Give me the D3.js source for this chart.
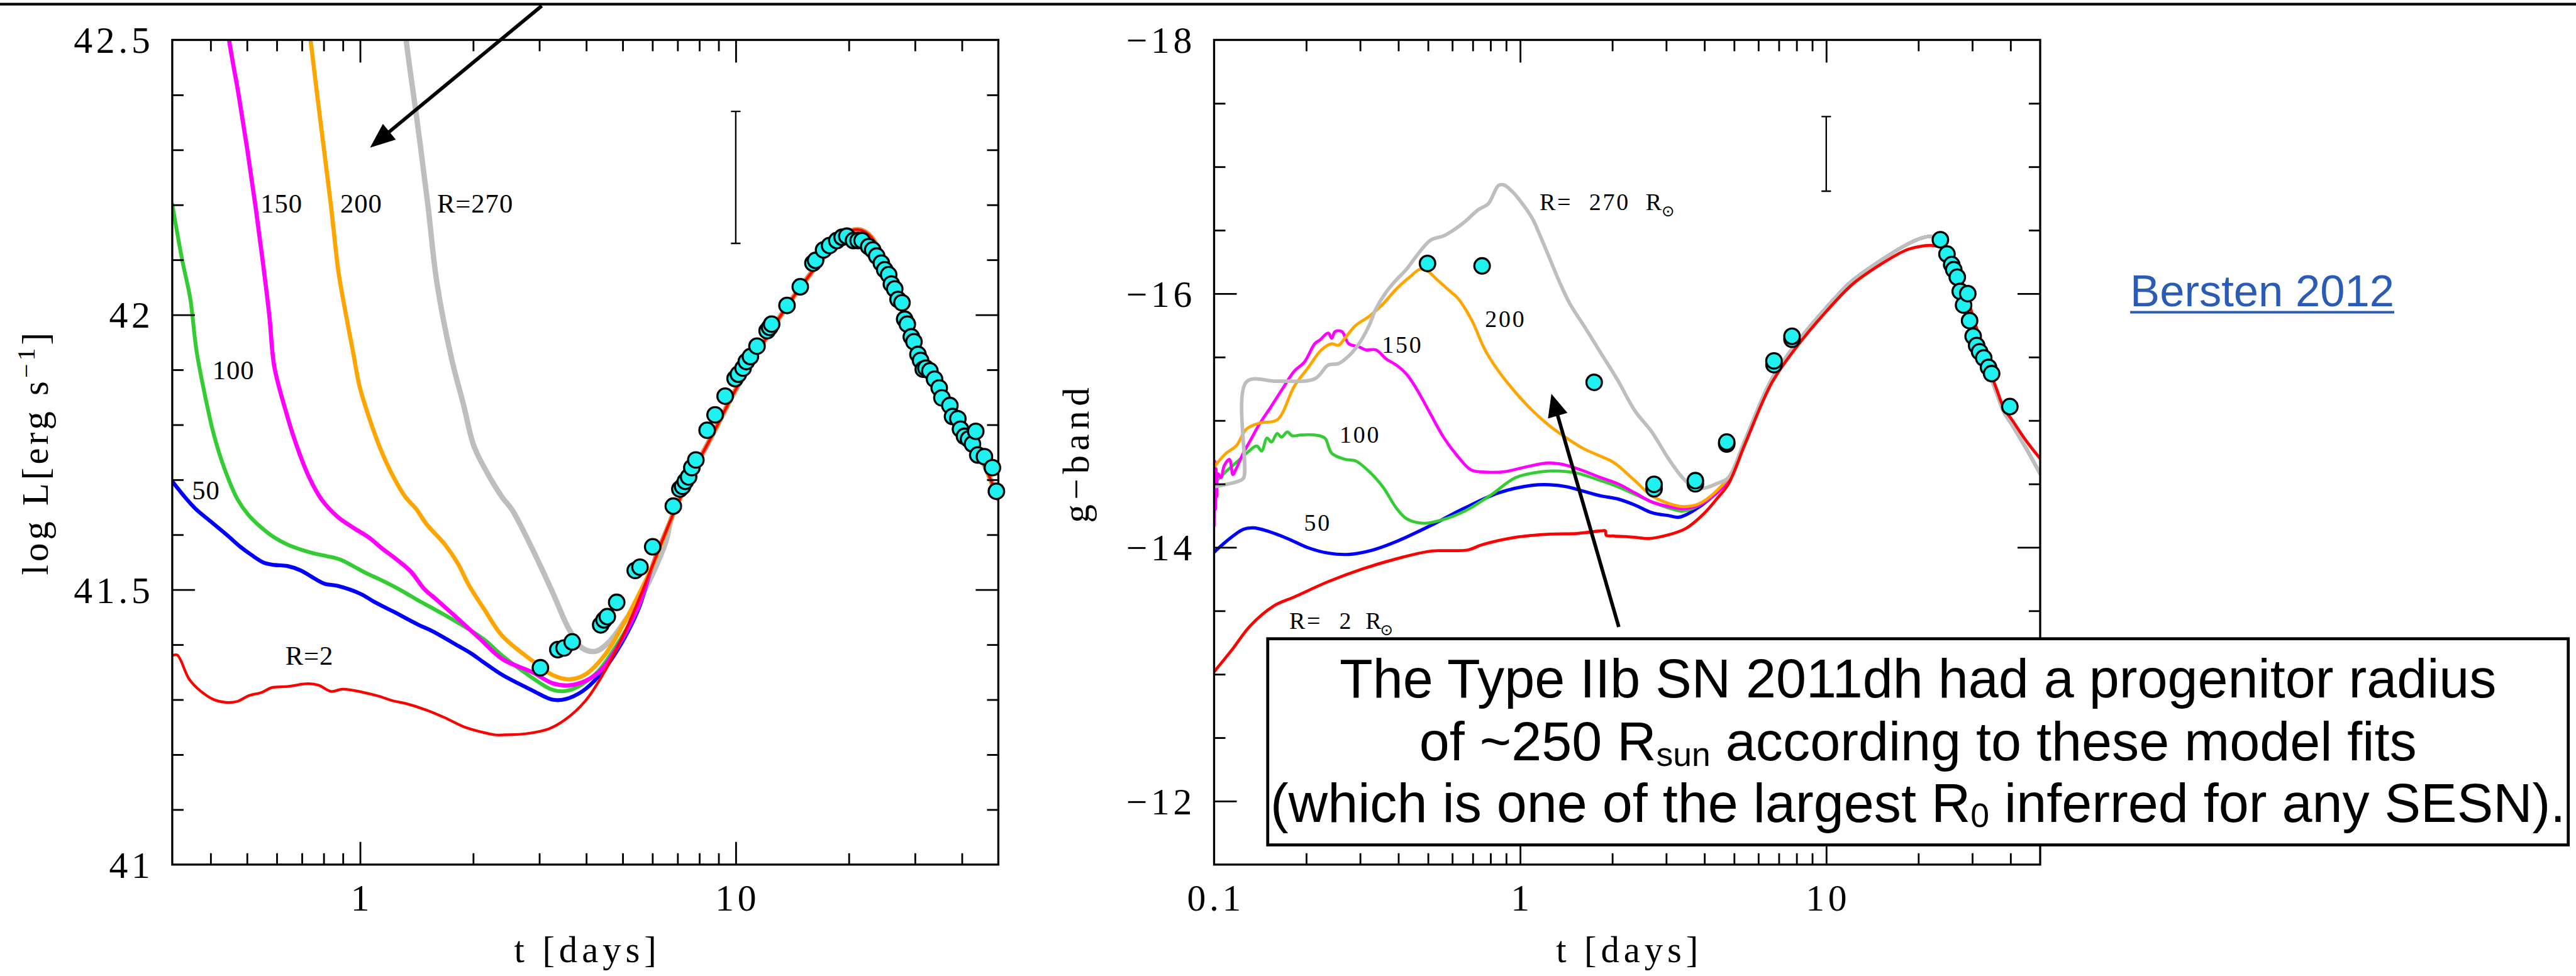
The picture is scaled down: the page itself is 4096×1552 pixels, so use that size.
<!DOCTYPE html>
<html><head><meta charset="utf-8"><title>SN 2011dh progenitor radius models (Bersten 2012)</title>
<script src="https://cdn.jsdelivr.net/npm/d3@7/dist/d3.min.js"></script>
<style>html,body{margin:0;padding:0;background:#fff;overflow:hidden}svg{display:block}</style>
</head><body>
<svg id="chart" width="4096" height="1552" viewBox="0 0 4322 1638" preserveAspectRatio="none"></svg>
<script>
// ======================= DATA =======================
// ---- Left panel: bolometric luminosity, log L [erg/s] vs t [days]
const leftXMajor = [1, 10];
const leftXMinor = [0.4,0.5,0.6,0.7,0.8,0.9,2,3,4,5,6,7,8,9,20,30,40];
const leftXTickValues = [1, 10];
const leftXTickLabels = ["1", "10"];
const leftYMajor = [41.5, 42];
const leftYMinor = [41.1,41.2,41.3,41.4,41.6,41.7,41.8,41.9,42.1,42.2,42.3,42.4];
const leftYTickValues = [41, 41.5, 42, 42.5];
const leftYTickLabels = ["41", "41.5", "42", "42.5"];

const lumR2 = [[0.3162,41.380],[0.326,41.381],[0.351,41.337],[0.377,41.315],[0.408,41.300],[0.439,41.295],[0.472,41.297],[0.504,41.307],[0.546,41.313],[0.582,41.322],[0.641,41.324],[0.729,41.329],[0.777,41.326],[0.836,41.315],[0.899,41.319],[1.039,41.312],[1.125,41.306],[1.22,41.298],[1.322,41.293],[1.503,41.281],[1.683,41.267],[1.884,41.251],[2.108,41.241],[2.285,41.236],[2.44,41.236],[2.76,41.238],[3.18,41.247],[3.52,41.264],[3.98,41.298],[4.50,41.354],[5.19,41.439],[5.98,41.541]];
const lumR50 = [[0.3162,41.697],[0.342,41.668],[0.365,41.647],[0.402,41.623],[0.443,41.599],[0.48,41.578],[0.512,41.564],[0.555,41.549],[0.591,41.545],[0.641,41.543],[0.695,41.535],[0.741,41.524],[0.803,41.511],[0.870,41.507],[1.006,41.492],[1.09,41.478],[1.22,41.461],[1.432,41.436],[1.553,41.425],[1.823,41.398],[1.976,41.384],[2.142,41.367],[2.39,41.345],[2.87,41.317],[3.25,41.300],[3.52,41.301],[3.90,41.315],[4.32,41.343],[4.88,41.394],[5.52,41.466],[5.98,41.541]];
const lumR100 = [[0.3162,42.201],[0.336,42.10],[0.353,42.03],[0.367,41.934],[0.389,41.844],[0.408,41.782],[0.4356,41.720],[0.472,41.664],[0.503,41.637],[0.546,41.613],[0.591,41.595],[0.641,41.582],[0.695,41.573],[0.753,41.566],[0.816,41.561],[0.884,41.555],[0.958,41.543],[1.039,41.530],[1.125,41.519],[1.22,41.507],[1.322,41.494],[1.432,41.480],[1.553,41.467],[1.823,41.440],[2.142,41.409],[2.39,41.380],[2.87,41.340],[3.25,41.318],[3.55,41.316],[3.90,41.328],[4.32,41.353],[4.88,41.405],[5.52,41.470],[5.98,41.541]];
const lumR150 = [[0.44,42.55],[0.448,42.5],[0.475,42.40],[0.501,42.30],[0.526,42.20],[0.55,42.10],[0.573,42.0],[0.591,41.906],[0.631,41.830],[0.673,41.768],[0.730,41.706],[0.790,41.664],[0.870,41.633],[0.958,41.613],[1.055,41.595],[1.144,41.575],[1.24,41.557],[1.365,41.533],[1.479,41.502],[1.603,41.481],[1.823,41.447],[2.074,41.412],[2.39,41.374],[2.87,41.350],[3.25,41.330],[3.6,41.326],[3.98,41.334],[4.41,41.356],[4.98,41.410],[5.52,41.472],[5.98,41.541]];
const lumR200 = [[0.725,42.55],[0.738,42.5],[0.785,42.35],[0.836,42.20],[0.875,42.08],[0.90,42.03],[0.961,41.927],[0.995,41.872],[1.045,41.823],[1.13,41.758],[1.225,41.706],[1.322,41.668],[1.41,41.647],[1.503,41.619],[1.683,41.582],[1.823,41.547],[1.945,41.509],[2.142,41.464],[2.39,41.416],[2.87,41.371],[3.25,41.345],[3.6,41.337],[3.98,41.346],[4.5,41.383],[5.09,41.445],[5.6,41.50],[5.98,41.541]];
const lumR270 = [[1.30,42.56],[1.326,42.5],[1.42,42.35],[1.515,42.20],[1.60,42.06],[1.752,41.920],[1.884,41.837],[2.01,41.761],[2.178,41.713],[2.39,41.668],[2.54,41.645],[2.87,41.575],[3.25,41.496],[3.6,41.428],[3.9,41.394],[4.24,41.388],[4.6,41.405],[5.09,41.445],[5.63,41.49],[6.5,41.585]];
const lumTail = [[6.76,41.632],[7.64,41.711],[8.63,41.779],[10,41.864],[11.96,41.954],[14.67,42.045],[17.27,42.107],[19.5,42.147],[21.2,42.155],[22.97,42.141],[25.9,42.06],[29.3,41.97],[33.1,41.89],[39.0,41.80],[44.1,41.75],[50,41.665]];
const lumObs = [[3.02,41.358],[3.36,41.391],[3.49,41.394],[3.67,41.405],[4.37,41.436],[4.46,41.445],[4.55,41.451],[4.82,41.477],[5.40,41.535],[5.56,41.541],[6.01,41.578],[6.82,41.652],[7.10,41.683],[7.22,41.688],[7.34,41.697],[7.49,41.705],[7.64,41.722],[7.83,41.736],[8.39,41.790],[8.81,41.818],[9.37,41.852],[9.96,41.884],[10.16,41.892],[10.46,41.903],[10.67,41.915],[10.94,41.924],[11.39,41.943],[12.12,41.971],[12.31,41.977],[12.46,41.983],[13.69,42.017],[14.85,42.051],[16.05,42.094],[16.31,42.099],[17.13,42.118],[17.77,42.126],[18.58,42.135],[19.19,42.141],[19.75,42.143],[20.58,42.135],[21.17,42.135],[21.69,42.135],[22.59,42.124],[23.15,42.118],[23.72,42.107],[24.41,42.094],[24.92,42.082],[25.53,42.073],[25.96,42.056],[26.49,42.047],[27.04,42.028],[27.70,42.022],[28.16,41.992],[28.62,41.983],[29.33,41.960],[29.81,41.951],[30.55,41.928],[31.05,41.917],[31.56,41.901],[32.08,41.903],[32.87,41.898],[33.82,41.883],[34.80,41.867],[35.38,41.849],[37.15,41.835],[37.76,41.815],[39.01,41.811],[39.65,41.792],[40.63,41.779],[41.65,41.774],[42.67,41.765],[43.54,41.788],[44.08,41.745],[45.91,41.742],[48.22,41.722],[49.41,41.679]];
const lumErrorBar = [10, 42.13, 42.37];
const lumCurveLabels = [["150",0.618,42.186,"middle"],["200",1.007,42.186,"middle"],["R=270",1.603,42.186,"start"],["100",0.460,41.883,"middle"],["50",0.389,41.664,"middle"],["R=2",0.733,41.364,"middle"]];
const lumArrow = [[3.045,42.562],[1.063,42.304]];

// ---- Right panel: g-band absolute magnitude vs t [days]
const rightXMajor = [1, 10];
const rightXMinor = [0.2,0.3,0.4,0.5,0.6,0.7,0.8,0.9,2,3,4,5,6,7,8,9,20,30,40];
const rightXTickValues = [0.1, 1, 10];
const rightXTickLabels = ["0.1", "1", "10"];
const rightYMajor = [-16, -14, -12];
const rightYMinor = [-17.5,-17,-16.5,-15.5,-15,-14.5,-13.5,-13,-12.5];
const rightYTickValues = [-18, -16, -14, -12];
const rightYTickLabels = ["\u221218", "\u221216", "\u221214", "\u221212"];

const gR2 = [[0.1,-13.02],[0.115,-13.20],[0.131,-13.38],[0.157,-13.54],[0.183,-13.61],[0.236,-13.73],[0.305,-13.83],[0.394,-13.91],[0.509,-13.97],[0.675,-13.98],[0.748,-14.02],[0.966,-14.08],[1.249,-14.105],[1.532,-14.11],[1.834,-14.13],[1.90,-14.13],[1.91,-14.095],[2.03,-14.09],[2.37,-14.08],[2.63,-14.07],[3.06,-14.10],[3.48,-14.15],[3.96,-14.26],[4.38,-14.38],[4.79,-14.50],[5.44,-14.82],[6.65,-15.30],[8.12,-15.60],[9.92,-15.85],[12.13,-16.07],[14.82,-16.22],[18.11,-16.34],[20.02,-16.37],[22.13,-16.38],[23.86,-16.36],[25.72,-16.27],[27.0,-16.16],[28.43,-16.02],[30.0,-15.84],[31.43,-15.68],[33.0,-15.52],[34.4,-15.38],[36.0,-15.25],[38.0,-15.10],[40.6,-15.0],[45,-14.84],[50,-14.70]];
const gR50 = [[0.1,-13.962],[0.1094,-14.046],[0.1244,-14.142],[0.1343,-14.154],[0.1489,-14.13],[0.1736,-14.07],[0.2024,-13.998],[0.236,-13.955],[0.2754,-13.945],[0.3295,-13.979],[0.394,-14.046],[0.509,-14.171],[0.658,-14.31],[0.85,-14.43],[1.098,-14.49],[1.249,-14.494],[1.42,-14.478],[1.613,-14.442],[1.834,-14.406],[2.084,-14.382],[2.37,-14.334],[2.694,-14.274],[3.062,-14.25],[3.306,-14.238],[3.662,-14.286],[4.163,-14.382],[4.79,-14.54]];
const gR100 = [[0.1,-14.502],[0.1094,-14.598],[0.1182,-14.67],[0.1276,-14.742],[0.1378,-14.80],[0.143,-14.76],[0.1489,-14.862],[0.154,-14.83],[0.1607,-14.898],[0.166,-14.87],[0.1736,-14.91],[0.18,-14.88],[0.1923,-14.886],[0.2132,-14.886],[0.23,-14.862],[0.2423,-14.742],[0.2684,-14.694],[0.29,-14.682],[0.321,-14.598],[0.3557,-14.478],[0.394,-14.31],[0.4256,-14.226],[0.4839,-14.19],[0.55,-14.214],[0.658,-14.286],[0.808,-14.418],[0.966,-14.55],[1.186,-14.598],[1.348,-14.602],[1.532,-14.586],[1.834,-14.526],[2.084,-14.478],[2.37,-14.418],[2.694,-14.358],[3.062,-14.31],[3.391,-14.286],[3.855,-14.334],[4.79,-14.526]];
const gR150 = [[0.1,-14.17],[0.1005,-14.68],[0.101,-14.30],[0.1015,-14.62],[0.102,-14.40],[0.103,-14.58],[0.1053,-14.55],[0.108,-14.646],[0.1123,-14.694],[0.1152,-14.574],[0.1182,-14.622],[0.1245,-14.742],[0.131,-14.838],[0.1414,-14.981],[0.1527,-15.101],[0.1692,-15.269],[0.1827,-15.389],[0.1973,-15.461],[0.2132,-15.605],[0.2215,-15.634],[0.236,-15.689],[0.2422,-15.648],[0.2485,-15.701],[0.2616,-15.701],[0.2754,-15.605],[0.2974,-15.581],[0.313,-15.557],[0.338,-15.557],[0.365,-15.485],[0.394,-15.437],[0.4256,-15.365],[0.4597,-15.245],[0.509,-15.053],[0.564,-14.862],[0.625,-14.718],[0.692,-14.61],[0.787,-14.593],[0.895,-14.598],[1.043,-14.634],[1.217,-14.665],[1.348,-14.658],[1.532,-14.622],[1.834,-14.55],[2.084,-14.502],[2.37,-14.43],[2.694,-14.358],[3.062,-14.322],[3.391,-14.305],[3.855,-14.334],[4.79,-14.526]];
const gR200 = [[0.1,-14.634],[0.1094,-14.742],[0.1182,-14.801],[0.1276,-14.933],[0.1414,-14.981],[0.1607,-15.005],[0.1827,-15.269],[0.2024,-15.413],[0.2243,-15.557],[0.2422,-15.605],[0.2548,-15.593],[0.2684,-15.653],[0.29,-15.749],[0.321,-15.821],[0.3557,-15.917],[0.394,-16.037],[0.4366,-16.133],[0.4716,-16.193],[0.4963,-16.181],[0.5359,-16.109],[0.5938,-16.013],[0.6251,-15.965],[0.6925,-15.797],[0.7675,-15.557],[0.85,-15.389],[0.966,-15.221],[1.098,-15.077],[1.249,-14.957],[1.42,-14.861],[1.613,-14.778],[1.834,-14.718],[1.981,-14.682],[2.084,-14.646],[2.37,-14.526],[2.694,-14.406],[3.062,-14.346],[3.391,-14.322],[3.855,-14.346],[4.79,-14.55]];
const gR270 = [[0.1,-14.478],[0.1213,-14.526],[0.125,-14.55],[0.1276,-15.305],[0.1607,-15.31],[0.2132,-15.329],[0.236,-15.437],[0.255,-15.449],[0.2754,-15.509],[0.2974,-15.605],[0.321,-15.749],[0.338,-15.881],[0.365,-16.013],[0.394,-16.109],[0.4256,-16.193],[0.4597,-16.301],[0.509,-16.421],[0.564,-16.457],[0.609,-16.505],[0.658,-16.565],[0.729,-16.661],[0.787,-16.709],[0.850,-16.853],[0.884,-16.857],[0.942,-16.805],[1.017,-16.709],[1.098,-16.589],[1.156,-16.469],[1.249,-16.277],[1.348,-16.085],[1.456,-15.917],[1.613,-15.749],[1.834,-15.533],[2.084,-15.317],[2.37,-15.077],[2.694,-14.909],[3.062,-14.694],[3.391,-14.55],[3.662,-14.478],[3.956,-14.466],[4.383,-14.502],[4.79,-14.55]];
const gTail = [[5.44,-14.85],[6.65,-15.33],[8.12,-15.63],[9.92,-15.88],[12.13,-16.10],[14.82,-16.25],[18.11,-16.38],[20.02,-16.43],[22.13,-16.45],[23.86,-16.40],[25.72,-16.26],[27.0,-16.14],[28.43,-15.99],[30.0,-15.81],[31.43,-15.65],[33.0,-15.49],[34.4,-15.35],[36.0,-15.22],[38.0,-15.07],[40.6,-14.96],[45,-14.78],[50,-14.58]];
const gObs = [[0.498,-16.238],[0.751,-16.219],[1.745,-15.301],[2.738,-14.462],[2.738,-14.497],[3.736,-14.501],[3.736,-14.526],[4.73,-14.815],[4.73,-14.83],[6.75,-15.44],[6.75,-15.47],[7.73,-15.64],[7.73,-15.664],[23.6,-16.425],[24.8,-16.312],[25.7,-16.229],[26.1,-16.189],[26.8,-16.13],[27.4,-16.018],[28.1,-15.91],[29.0,-16.0],[29.4,-15.787],[30.2,-15.664],[31.0,-15.591],[31.7,-15.542],[32.7,-15.493],[33.9,-15.419],[34.7,-15.37],[39.8,-15.11]];
const gErrorBar = [10, -17.396, -16.808];
const gArrow = [[2.10,-13.373],[1.265,-15.21]];

// model colours
const modelColors = {R2:"#ff0000", R50:"#0000ff", R100:"#33cc33", R150:"#ff00ff", R200:"#ffa500", R270:"#bebebe"};

// annotation texts
const boxLines = ["The Type IIb SN 2011dh had a progenitor radius", "of ~250 R|sun| according to these model fits", "(which is one of the largest R|0| inferred for any SESN)."];
const citation = "Bersten 2012";

// ======================= DRAWING =======================
const svg = d3.select('#chart');
const defs = svg.append('defs');
const serif = "'Liberation Serif','Times New Roman',serif";
const sans = "'Liberation Sans',Arial,Helvetica,sans-serif";

svg.append('rect').attr('width',4322).attr('height',1638).attr('fill','#fff');
// top rule of the slide
svg.append('line').attr('x1',0).attr('x2',4322).attr('y1',7).attr('y2',7).attr('stroke','#000').attr('stroke-width',4.5);

function fitSpacing(sel, target) {
  const n = sel.text().length;
  const w = sel.node().getComputedTextLength();
  sel.attr('letter-spacing', ((target - w) / n).toFixed(2));
}

function drawArrow(g, p0, p1, headLen, headHalf, sw) {
  const dx = p1[0]-p0[0], dy = p1[1]-p0[1], len = Math.hypot(dx,dy);
  const ux = dx/len, uy = dy/len;
  const bx = p1[0]-ux*headLen, by = p1[1]-uy*headLen;
  g.append('line').attr('x1',p0[0]).attr('y1',p0[1]).attr('x2',bx+ux*4).attr('y2',by+uy*4)
    .attr('stroke','#000').attr('stroke-width',sw);
  g.append('path').attr('d',`M${p1[0]},${p1[1]}L${bx-uy*headHalf},${by+ux*headHalf}L${bx+uy*headHalf},${by-ux*headHalf}Z`).attr('fill','#000');
}

function drawPanel(p) {
  const g = svg.append('g');
  const x = p.x, y = p.y;
  const [x0,x1] = x.range(); const y0 = Math.min(...y.range()), y1 = Math.max(...y.range());
  defs.append('clipPath').attr('id', p.id+'-clip').append('rect').attr('x',x0).attr('y',y0).attr('width',x1-x0).attr('height',y1-y0);
  const line = d3.line().x(d=>x(d[0])).y(d=>y(d[1])).curve(d3.curveCatmullRom.alpha(0.5));
  const cg = g.append('g').attr('clip-path', `url(#${p.id}-clip)`);
  p.series.forEach(s => cg.append('path').attr('d', line(s.data)).attr('fill','none')
    .attr('stroke', s.color).attr('stroke-width', s.width).attr('stroke-linejoin','round').attr('stroke-linecap','round'));

  // ticks on all four sides, pointing inward
  const tk = (axis, tx, ty) => g.append('g').attr('transform',`translate(${tx},${ty})`).call(axis)
      .call(a => { a.select('.domain').remove(); a.selectAll('text').remove();
                   a.selectAll('line').attr('stroke','#000').attr('stroke-width',3); });
  tk(d3.axisBottom(x).tickValues(p.xMinor).tickSize(-19), 0, y1);
  tk(d3.axisBottom(x).tickValues(p.xMajor).tickSize(-38), 0, y1);
  tk(d3.axisTop(x).tickValues(p.xMinor).tickSize(-19), 0, y0);
  tk(d3.axisTop(x).tickValues(p.xMajor).tickSize(-38), 0, y0);
  tk(d3.axisLeft(y).tickValues(p.yMinor).tickSize(-19), x0, 0);
  tk(d3.axisLeft(y).tickValues(p.yMajor).tickSize(-38), x0, 0);
  tk(d3.axisRight(y).tickValues(p.yMinor).tickSize(-19), x1, 0);
  tk(d3.axisRight(y).tickValues(p.yMajor).tickSize(-38), x1, 0);
  g.append('rect').attr('x',x0).attr('y',y0).attr('width',x1-x0).attr('height',y1-y0)
    .attr('fill','none').attr('stroke','#000').attr('stroke-width',3.5);

  // tick labels
  const ls = 6;
  p.yTickValues.forEach((v,i) => g.append('text').attr('x', x0-37+ls).attr('y', y(v)).attr('dy','0.35em')
    .attr('text-anchor','end').attr('font-family',serif).attr('font-size',63).attr('letter-spacing',ls).text(p.yTickLabels[i]));
  p.xTickValues.forEach((v,i) => g.append('text').attr('x', x(v)+ls/2).attr('y', 1528)
    .attr('text-anchor','middle').attr('font-family',serif).attr('font-size',63).attr('letter-spacing',ls).text(p.xTickLabels[i]));

  // axis titles
  const xt = g.append('text').attr('x',(x0+x1)/2).attr('y',1615).attr('text-anchor','middle')
    .attr('font-family',serif).attr('font-size',62).text('t [days]');
  fitSpacing(xt, 246);
  xt.attr('x', (x0+x1)/2 + (+xt.attr('letter-spacing'))/2);

  // error bar
  const eb = p.errorBar, ex = x(eb[0]);
  g.append('path').attr('d',`M${ex-8},${y(eb[1])}H${ex+8}M${ex},${y(eb[1])}V${y(eb[2])}M${ex-8},${y(eb[2])}H${ex+8}`)
    .attr('stroke','#000').attr('stroke-width',2.5).attr('fill','none');

  // observed points
  g.append('g').selectAll('circle').data(p.points).join('circle')
    .attr('cx', d=>x(d[0])).attr('cy', d=>y(d[1])).attr('r', p.r)
    .attr('fill','#1ff0f0').attr('stroke','#000').attr('stroke-width',3.5);
  return g;
}

// ---------- LEFT PANEL ----------
const xL = d3.scaleLog().domain([0.3162, 50]).range([289, 1675]);
const yL = d3.scaleLinear().domain([41, 42.5]).range([1451, 67]);
const gl = drawPanel({
  id:'lum', x:xL, y:yL, xMinor:leftXMinor, xMajor:leftXMajor, yMinor:leftYMinor, yMajor:leftYMajor,
  xTickValues:leftXTickValues, xTickLabels:leftXTickLabels, yTickValues:leftYTickValues, yTickLabels:leftYTickLabels,
  errorBar:lumErrorBar, points:lumObs, r:13,
  series:[
    {data:lumR270.concat(lumTail), color:modelColors.R270, width:9},
    {data:lumR50.concat(lumTail), color:modelColors.R50, width:6.5},
    {data:lumR100.concat(lumTail), color:modelColors.R100, width:6.5},
    {data:lumR150.concat(lumTail), color:modelColors.R150, width:7},
    {data:lumR200.concat(lumTail), color:modelColors.R200, width:7},
    {data:lumR2.concat(lumTail), color:modelColors.R2, width:4.5}
  ]
});
const ylt = gl.append('text').attr('transform','translate(80,759) rotate(-90)').attr('text-anchor','middle')
  .attr('font-family',serif).attr('font-size',62);
ylt.append('tspan').text('log L[erg s');
ylt.append('tspan').attr('dy',-22).attr('font-size',42).text('\u22121');
ylt.append('tspan').attr('dy',22).text(']');
{
  const w = ylt.node().getComputedTextLength();
  ylt.attr('letter-spacing', ((418 - w)/15).toFixed(2));
}
lumCurveLabels.forEach(l => gl.append('text').attr('x', xL(l[1])).attr('y', yL(l[2])).attr('text-anchor', l[3])
  .attr('font-family',serif).attr('font-size',45).attr('letter-spacing',1).text(l[0]));
drawArrow(gl, [xL(lumArrow[0][0]), yL(lumArrow[0][1])], [xL(lumArrow[1][0]), yL(lumArrow[1][1])], 42, 17, 6);

// ---------- RIGHT PANEL ----------
const xR = d3.scaleLog().domain([0.1, 50]).range([2037, 3423]);
const yR = d3.scaleLinear().domain([-18, -11.5]).range([67, 1451]);
const gr = drawPanel({
  id:'gband', x:xR, y:yR, xMinor:rightXMinor, xMajor:rightXMajor, yMinor:rightYMinor, yMajor:rightYMajor,
  xTickValues:rightXTickValues, xTickLabels:rightXTickLabels, yTickValues:rightYTickValues, yTickLabels:rightYTickLabels,
  errorBar:gErrorBar, points:gObs, r:13,
  series:[
    {data:gR50.concat(gTail), color:modelColors.R50, width:5.5},
    {data:gR100.concat(gTail), color:modelColors.R100, width:5},
    {data:gR150.concat(gTail), color:modelColors.R150, width:5},
    {data:gR200.concat(gTail), color:modelColors.R200, width:5},
    {data:gR270.concat(gTail), color:modelColors.R270, width:6},
    {data:gR2, color:modelColors.R2, width:5}
  ]
});
const ygt = gr.append('text').attr('transform','translate(1826,760) rotate(-90)').attr('text-anchor','middle')
  .attr('font-family',serif).attr('font-size',62).text('g\u2212band');
fitSpacing(ygt, 235);

function rLabel(t, m, parts) {
  const bx = xR(t), by = yR(m);
  parts.forEach(pt => {
    gr.append('text').attr('x', bx + pt[1]).attr('y', by + (pt[2]||0)).attr('text-anchor', pt[3]||'start')
      .attr('font-family', pt[4]||serif).attr('font-size', pt[5]||40).attr('letter-spacing', 3).text(pt[0]);
  });
}
rLabel(1.157, -16.661, [["R=",0],["270",83],["R",178],["\u2299",217,11,"middle","'DejaVu Sans',sans-serif",26]]);
rLabel(0.896, -15.736, [["200",0,0,"middle"]]);
rLabel(0.4124, -15.534, [["150",0,0,"middle"]]);
rLabel(0.300, -14.825, [["100",0,0,"middle"]]);
rLabel(0.218, -14.13, [["50",0,0,"middle"]]);
rLabel(0.176, -13.359, [["R=",0],["2",84],["R",128],["\u2299",165,11,"middle","'DejaVu Sans',sans-serif",26]]);
drawArrow(gr, [xR(gArrow[0][0]), yR(gArrow[0][1])], [xR(gArrow[1][0]), yR(gArrow[1][1])], 38, 17, 6);

// ---------- ANNOTATION BOX ----------
const ann = svg.append('g');
ann.append('rect').attr('x',2127).attr('y',1072).attr('width',2182).attr('height',346)
  .attr('fill','#fff').attr('stroke','#000').attr('stroke-width',5);
const baselines = [1170, 1276, 1379];
const boxTexts = boxLines.map((ln,i) => {
  const t = ann.append('text').attr('x',3218).attr('y',baselines[i]).attr('text-anchor','middle')
    .attr('font-family',sans).attr('font-size',88).attr('fill','#000');
  ln.split('|').forEach((seg,j) => {
    if (j % 2 === 1) t.append('tspan').attr('font-size','0.62em').attr('dy',9).text(seg);
    else t.append('tspan').attr('dy', j>0 ? -9 : 0).text(seg);
  });
  return t;
});
{
  const targets = [1938, 1697, 2142];
  let s = 0; boxTexts.forEach((t,i)=> s += targets[i]/t.node().getComputedTextLength());
  const fs = 88 * s/3;
  boxTexts.forEach(t => t.attr('font-size', fs.toFixed(1)));
}

// ---------- CITATION ----------
const cit = svg.append('text').attr('x',3574).attr('y',514).attr('font-family',sans).attr('font-size',74)
  .attr('fill','#2a5cb5').text(citation);
{
  const w = cit.node().getComputedTextLength();
  cit.attr('font-size', (74*443/w).toFixed(1));
}
svg.append('line').attr('x1',3574).attr('x2',4017).attr('y1',524).attr('y2',524).attr('stroke','#2a5cb5').attr('stroke-width',4);
</script>
</body></html>
